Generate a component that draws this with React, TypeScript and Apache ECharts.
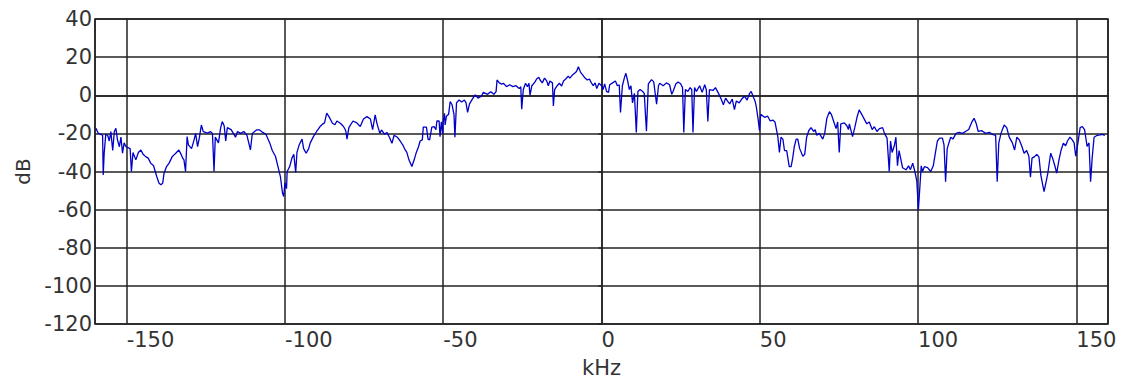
import React, { useEffect, useRef } from "react";
import * as echarts from "echarts";

const xTickLabels = ["-150", "-100", "-50", "0", "50", "100", "150"];
const yTickLabels = ["-120", "-100", "-80", "-60", "-40", "-20", "0", "20", "40"];

// frequency offsets (kHz) of the spectrum trace
const freqs: number[] = [
  -159.7, -159.0, -158.2, -157.6, -157.4, -157.1, -156.6, -156.0, -155.5, -155.0,
  -154.4, -153.9, -153.4, -152.9, -152.3, -151.8, -151.3, -150.8, -150.2, -148.9,
  -148.5, -148.0, -147.1, -146.3, -145.5, -144.8, -144.0, -143.2, -142.4, -141.5,
  -140.5, -139.8, -139.2, -138.6, -138.2, -137.4, -136.6, -135.6, -134.5, -133.5,
  -132.8, -132.3, -131.9, -131.4, -130.9, -130.5, -129.5, -128.7, -128.2, -127.6,
  -127.0, -126.4, -125.8, -124.5, -123.5, -122.9, -122.4, -122.0, -121.0, -120.3,
  -119.8, -119.2, -118.7, -118.2, -117.0, -116.3, -115.6, -115.0, -114.0, -113.0,
  -112.0, -110.9, -110.3, -109.0, -108.0, -107.0, -106.0, -105.6, -104.8, -104.0,
  -103.0, -102.2, -101.4, -100.8, -100.4, -100.0, -99.5, -99.3, -98.5, -97.8,
  -97.2, -96.6, -96.2, -95.5, -94.6, -94.1, -93.3, -92.5, -92.0, -91.0,
  -90.0, -88.9, -88.0, -87.5, -86.8, -86.0, -85.0, -84.2, -83.6, -82.5,
  -81.5, -80.8, -80.4, -79.8, -78.5, -77.3, -76.2, -75.2, -74.1, -73.0,
  -72.3, -71.5, -70.9, -70.0, -69.5, -68.5, -67.8, -67.0, -66.2, -65.5,
  -64.5, -63.6, -62.8, -62.0, -61.5, -60.8, -59.9, -59.2, -58.5, -57.8,
  -57.3, -56.6, -56.3, -55.3, -54.8, -54.3, -53.6, -52.9, -52.3, -52.0,
  -51.3, -51.0, -50.6, -50.2, -50.0, -49.6, -49.4, -49.0, -48.3, -47.8,
  -47.2, -46.6, -46.3, -45.8, -45.0, -44.2, -43.3, -42.8, -42.3, -41.7,
  -40.8, -39.9, -39.0, -38.0, -37.3, -36.0, -35.0, -34.0, -33.3, -33.0,
  -32.3, -31.5, -31.0, -30.0, -29.0, -28.0, -27.0, -26.0, -25.5, -25.2,
  -24.7, -24.0, -23.4, -22.9, -22.6, -22.0, -21.0, -20.5, -19.8, -19.4,
  -18.7, -18.0, -17.3, -16.8, -16.3, -15.5, -15.2, -14.8, -14.0, -13.3,
  -12.6, -12.0, -11.3, -10.5, -10.0, -9.2, -8.5, -7.9, -7.3, -6.6,
  -5.9, -5.2, -4.5, -3.8, -3.2, -2.6, -2.0, -1.5, -0.8, 0.0,
  0.5, 1.0, 1.6, 2.2, 2.6, 3.5, 4.4, 5.0, 5.6, 6.0,
  6.6, 7.2, 7.7, 8.2, 8.8, 9.3, 9.8, 10.4, 11.0, 11.5,
  12.2, 13.0, 13.5, 14.2, 14.8, 15.8, 16.5, 17.4, 18.0, 18.4,
  19.5, 20.5, 21.5, 22.2, 22.6, 23.5, 24.2, 25.0, 25.6, 26.0,
  26.5, 27.3, 28.0, 28.5, 28.9, 29.4, 30.0, 31.0, 31.8, 32.6,
  33.1, 33.6, 34.1, 35.2, 36.0, 36.8, 37.8, 38.5, 39.2, 40.0,
  40.5, 41.3, 42.0, 42.6, 43.5, 44.3, 45.2, 46.0, 46.8, 47.3,
  48.0, 48.5, 48.9, 49.5, 49.9, 50.3, 51.5, 52.5, 53.3, 54.1,
  54.8, 55.7, 56.2, 56.7, 57.3, 57.8, 58.5, 59.3, 59.9, 60.4,
  60.9, 61.5, 62.0, 62.6, 63.6, 64.2, 64.8, 65.5, 66.2, 67.0,
  67.5, 68.0, 68.8, 69.9, 70.5, 71.2, 72.0, 72.6, 73.4, 74.1,
  74.6, 75.1, 75.6, 76.7, 77.5, 78.0, 78.3, 79.3, 80.0, 80.8,
  81.4, 82.2, 83.0, 83.8, 84.6, 85.5, 86.2, 87.0, 87.8, 88.8,
  89.4, 90.2, 90.9, 91.3, 91.8, 92.5, 93.0, 93.5, 94.0, 95.1,
  96.2, 97.0, 97.6, 98.3, 99.0, 99.6, 100.1, 100.5, 101.0, 101.4,
  102.0, 103.0, 104.0, 104.8, 105.5, 106.1, 106.8, 107.7, 108.2, 108.7,
  109.2, 110.3, 111.0, 112.0, 113.0, 114.0, 115.0, 116.0, 117.0, 117.7,
  118.4, 119.0, 120.0, 121.4, 122.5, 123.5, 124.5, 125.0, 125.5, 126.2,
  127.2, 128.0, 128.8, 129.8, 130.5, 131.2, 132.0, 132.8, 133.5, 134.3,
  135.0, 135.5, 136.0, 136.8, 137.5, 138.2, 138.8, 139.8, 140.5, 141.0,
  141.9, 142.5, 143.2, 143.8, 144.5, 145.2, 145.9, 146.6, 147.2, 148.0,
  148.7, 149.3, 149.8, 150.5, 151.2, 151.9, 152.6, 153.4, 154.0, 154.5,
  155.0, 155.6, 156.6, 157.5, 158.2, 159.0,
];

// level (dB) at each frequency
const levels: number[] = [
  -17.3, -19.9, -20.5, -21, -41.8, -30.4, -20.5, -21, -24, -19.1,
  -29, -19, -17.3, -23.4, -27, -22, -30.4, -25, -27, -28,
  -40.0, -30, -33.9, -30, -28.7, -31, -32.2, -33, -35.6, -37,
  -42.6, -46, -47.0, -46, -41, -37.4, -35.6, -32.2, -30.4, -28.7,
  -31, -33, -33.9, -40.0, -21.7, -26, -28, -23.4, -20, -27,
  -22, -15.6, -19.1, -19.9, -19.1, -20, -40.0, -22, -25, -17,
  -13.8, -16, -24.0, -17, -18, -20, -22, -19, -20, -19,
  -21, -28.7, -20, -18.2, -18.2, -19.5, -20.5, -22, -25, -29,
  -32, -37.4, -43, -51, -53.1, -46, -49, -40.0, -37.4, -33,
  -31, -40.5, -30, -26, -23, -28, -30.4, -28, -25, -21.7,
  -19, -16.4, -15, -14.5, -9.4, -11.5, -14.7, -15.5, -13.5, -14.7,
  -16.4, -18.5, -23, -17, -13.5, -14.5, -16.4, -12.5, -11.2, -12.5,
  -18, -10.3, -15, -20, -18.2, -20.5, -19.5, -22, -25.2, -21,
  -22, -24, -26, -28.7, -30, -34, -37.4, -34, -30, -27,
  -24, -23.4, -16.7, -16.7, -23, -23.4, -16.7, -16.5, -18, -13.5,
  -13.5, -21.7, -14, -20, -14, -9.5, -15.6, -11, -10, -3.3,
  -5, -10, -22.0, -4, -2.5, -3.5, -2.5, -4, -9, -4.5,
  -2, 0.2, -1.5, -0.5, 1.5, 0.5, 1.9, 0.5, 1.9, 8.0,
  6.5, 5.8, 6.3, 4.5, 5.5, 4.5, 5.0, 3.5, 4.5, -7.3,
  3, 6.3, 4.5, 6.3, 0, 5, 7, 8.5, 9.5, 8,
  6.5, 9, 7.5, 5, 7.5, 6.5, -5.6, 3, 5, 6.3,
  4.8, 7.5, 8.5, 10, 9, 10.6, 11.5, 12.5, 15.0, 12,
  10.6, 9, 8, 8.5, 6.5, 5, 6.5, 3.5, 6.3, 5,
  3, 6, 2, 1.5, 5.5, 6.5, 7.5, 5, 5.5, -9,
  5, 9, 11.5, 8, 3, 5, -4, 1, -19.5, 2,
  3, 2, 1, -18.8, 6, 8.2, 7, -4.7, 5, 6.3,
  5, 6.5, 5.5, 0.5, 2, 6, 7.0, 6, 4, -19.5,
  3, 2, 4, 3, -19.5, 4, 2, 5, 1.5, 5.5,
  3, -13.7, 3, 2.5, 4, 1.5, -2, -5, -1.5, -3.5,
  -4.5, -2, -7.5, -3, -4, -2, -0.5, -2.5, 1, 2,
  -1, -3, -6, -12.9, -18.5, -10, -11.6, -11, -13.5, -13,
  -14, -21.7, -30, -22, -23, -29, -29, -37.4, -37.4, -33,
  -27, -23, -23, -28, -32, -31, -22, -18.5, -17, -19,
  -18, -21, -20, -23, -20, -12, -8.6, -10, -14, -17.5,
  -14, -30, -15, -14.5, -16, -18, -15, -21.7, -17, -11,
  -7.7, -10, -12.5, -15, -14, -18, -16.5, -19, -17.5, -17,
  -20, -22.5, -40.0, -24, -30, -26.5, -22, -37, -29, -38,
  -39.1, -37, -39, -35.6, -40, -45, -60.1, -50, -37, -40,
  -37.5, -38, -40, -37, -30, -24, -22.5, -22.5, -26, -45.3,
  -28, -22, -23, -20, -19.5, -20, -19, -18, -14, -12.1,
  -15, -19, -18.5, -20, -19.5, -20.5, -21, -45.3, -25, -20,
  -15.6, -17, -22, -25, -28.7, -22, -23.5, -26.9, -30.4, -29,
  -32, -43, -33, -32.2, -31, -32.5, -42, -50.5, -45, -40.8,
  -30.4, -33, -37, -40.8, -34, -28.7, -25.2, -26.5, -24, -22,
  -23.4, -25, -32, -25, -17, -16.4, -18, -26.9, -25, -45.3,
  -33, -22, -21, -20.8, -20.5, -21,
];

const FONT = "'DejaVu Sans', sans-serif";

export default function App() {
  const ref = useRef<HTMLDivElement>(null);

  useEffect(() => {
    if (!ref.current) return;
    const chart = echarts.init(ref.current, undefined, { renderer: "svg" });
    const data = freqs.map((f, i) => [f, levels[i]]);
    chart.setOption({
      animation: false,
      backgroundColor: "#ffffff",
      grid: {
        left: 95,
        right: 15,
        top: 19,
        bottom: 60,
        show: true,
        borderColor: "#222",
        borderWidth: 1.5,
        containLabel: false,
      },
      xAxis: {
        type: "value",
        min: -160,
        max: 160,
        splitNumber: 6,
        name: "kHz",
        nameLocation: "middle",
        nameGap: 33,
        nameTextStyle: { fontFamily: FONT, fontSize: 21, color: "#333" },
        axisLine: { show: true, lineStyle: { color: "#222", width: 1.5 } },
        axisTick: { show: false },
        axisLabel: {
          show: true,
          align: "left",
          margin: 5,
          fontFamily: FONT,
          fontSize: 21,
          color: "#333",
          showMinLabel: false,
          showMaxLabel: false,
          formatter: (v: number) => {
            const s = String(v);
            return xTickLabels.includes(s) ? s : "";
          },
        },
        splitLine: { show: true, lineStyle: { color: "#222", width: 1.5 } },
      },
      yAxis: {
        type: "value",
        min: -120,
        max: 40,
        interval: 20,
        name: "dB",
        nameLocation: "middle",
        nameGap: 54,
        nameTextStyle: { fontFamily: FONT, fontSize: 20, color: "#333" },
        axisLine: { show: true, lineStyle: { color: "#222", width: 1.5 } },
        axisTick: { show: true, length: 3, lineStyle: { color: "#222", width: 1.5 } },
        axisLabel: {
          margin: 3,
          fontFamily: FONT,
          fontSize: 21,
          color: "#333",
          formatter: (v: number) => {
            const s = String(v);
            return yTickLabels.includes(s) ? s : "";
          },
        },
        splitLine: { show: true, lineStyle: { color: "#222", width: 1.5 } },
      },
      series: [
        {
          type: "line",
          data,
          showSymbol: false,
          symbol: "none",
          lineStyle: { color: "#0000c8", width: 1.3 },
          z: 3,
        },
      ],
    });
    return () => chart.dispose();
  }, []);

  return (
    <div
      ref={ref}
      style={{ position: "absolute", left: 0, top: 0, width: 1123, height: 384 }}
    />
  );
}
